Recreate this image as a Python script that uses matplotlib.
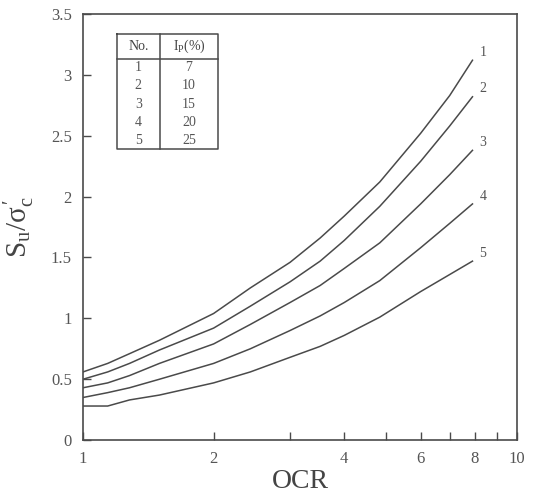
import matplotlib.pyplot as plt

plt.rcParams['font.family'] = ['Liberation Serif', 'DejaVu Serif']
plt.rcParams['mathtext.fontset'] = 'custom'
plt.rcParams['mathtext.rm'] = 'Liberation Serif'
plt.rcParams['mathtext.it'] = 'Liberation Serif:italic'

# OCR values where the curves were read
ocr = [1, 1.14, 1.28, 1.5, 2, 2.43, 3, 3.52, 4, 4.83, 6, 7, 7.9]

# Su/sigma_c' for each plasticity index
su_1 = [0.56, 0.63, 0.71, 0.82, 1.04, 1.25, 1.46, 1.66, 1.84, 2.12, 2.52, 2.83, 3.12]
su_2 = [0.50, 0.56, 0.63, 0.74, 0.92, 1.10, 1.30, 1.47, 1.64, 1.92, 2.29, 2.58, 2.82]
su_3 = [0.43, 0.47, 0.53, 0.63, 0.79, 0.95, 1.13, 1.27, 1.41, 1.62, 1.94, 2.18, 2.38]
su_4 = [0.35, 0.39, 0.43, 0.50, 0.63, 0.75, 0.90, 1.02, 1.13, 1.31, 1.58, 1.78, 1.94]
su_5 = [0.28, 0.28, 0.33, 0.37, 0.47, 0.56, 0.68, 0.77, 0.86, 1.01, 1.22, 1.36, 1.47]

curve_no = ['1', '2', '3', '4', '5']
ip = ['7', '10', '15', '20', '25']

x_ticks = [1, 2, 3, 4, 5, 6, 7, 8, 9, 10]
x_labels = ['1', '2', '', '4', '', '6', '', '8', '', '10']
y_ticks = [0, 0.5, 1, 1.5, 2, 2.5, 3, 3.5]
y_labels = ['0', '0.5', '1', '1.5', '2', '2.5', '3', '3.5']

ink = '#4a4a4a'

fig = plt.figure(figsize=(5.39, 4.99), dpi=100)
ax = fig.add_axes([0.154, 0.118, 0.805, 0.854])

for ys, name in zip([su_1, su_2, su_3, su_4, su_5], curve_no):
    ax.plot(ocr, ys, color=ink, lw=1.1)
    ax.annotate(name, (ocr[-1], ys[-1]), xytext=(5, 1), textcoords='offset points',
                fontsize=10, color='#555555', va='bottom', ha='left')

ax.set_xscale('log')
ax.set_xlim(1, 10)
ax.set_ylim(0, 3.5)
ax.set_xticks(x_ticks)
ax.set_xticklabels(x_labels)
ax.minorticks_off()
ax.set_yticks(y_ticks)
ax.set_yticklabels(y_labels)
ax.tick_params(direction='in', length=6, width=1, colors=ink, labelsize=12,
               labelcolor='#555555', pad=8)

for s in ax.spines.values():
    s.set_color(ink)
    s.set_linewidth(1.2)

ax.set_xlabel('OCR', fontsize=20, color='#444444', labelpad=1)
ax.set_ylabel(r"$\mathrm{S_u/\sigma_c^{\,\prime}}$", fontsize=21, color='#444444', labelpad=10)

# table in upper left
tx0, tx1, tx2 = 0.078, 0.177, 0.311
ty_top, ty_head, ty_bot = 0.953, 0.895, 0.682
kw = dict(transform=ax.transAxes, color=ink, lw=1.1)
ax.plot([tx0, tx2, tx2, tx0, tx0], [ty_top, ty_top, ty_bot, ty_bot, ty_top], **kw)
ax.plot([tx0, tx2], [ty_head, ty_head], **kw)
ax.plot([tx1, tx1], [ty_top, ty_bot], **kw)
ax.text((tx0 + tx1) / 2, (ty_top + ty_head) / 2, 'No.', transform=ax.transAxes,
        ha='center', va='center', fontsize=10, color='#444444')
ax.text((tx1 + tx2) / 2, (ty_top + ty_head) / 2, r'$\mathrm{I_P}$(%)', transform=ax.transAxes,
        ha='center', va='center', fontsize=10, color='#444444')
row_h = (ty_head - ty_bot) / len(curve_no)
for i, (n, p) in enumerate(zip(curve_no, ip)):
    yy = ty_head - row_h * (i + 0.5)
    ax.text((tx0 + tx1) / 2, yy, n, transform=ax.transAxes, ha='center', va='center',
            fontsize=10, color='#555555')
    ax.text((tx1 + tx2) / 2, yy, p, transform=ax.transAxes, ha='center', va='center',
            fontsize=10, color='#555555')

fig.savefig('out.png', dpi=100)
